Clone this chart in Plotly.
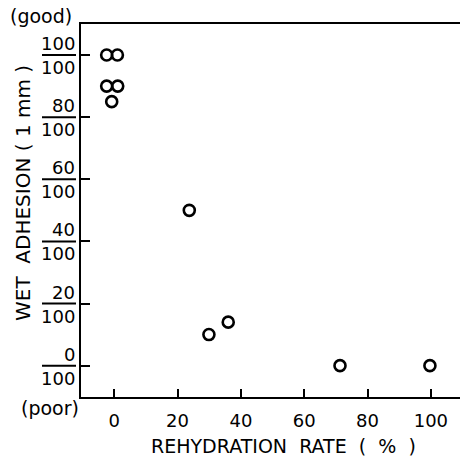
import plotly.graph_objects as go

# data
rehydration = [-2.4, 1.0, -2.4, 1.1, -0.8, 23.7, 29.9, 36.0, 71.3, 99.7]
adhesion = [100, 100, 90, 90, 85, 50, 10, 14, 0, 0]

x_ticks = [0, 20, 40, 60, 80, 100]
y_ticks = [0, 20, 40, 60, 80, 100]
y_denominator = "100"

NB = "\u00a0"
x_title = f"REHYDRATION{NB*2}RATE{NB*2}({NB}{NB}%{NB}{NB})"
y_title = f"WET{NB*2}ADHESION{NB}({NB}1{NB}mm{NB})"

FONT = "DejaVu Sans"
W, H = 460, 459
ML, MR, MT, MB = 81, 0, 24, 62
PW = W - ML - MR
PH = H - MT - MB

fig = go.Figure()
fig.add_trace(go.Scatter(
    x=rehydration, y=adhesion, mode="markers",
    marker=dict(symbol="circle-open", size=11, color="black", line=dict(width=2.6, color="black")),
    showlegend=False,
))

def px2paper_x(px):
    return (px - ML) / PW

def py2paper_y(py):
    return (H - MB - py) / PH

annotations = []
shapes = []
for v in y_ticks:
    annotations.append(dict(x=px2paper_x(77), xref="paper", y=v, yref="y", text=str(v),
                            xanchor="right", yanchor="bottom", yshift=-1, showarrow=False,
                            font=dict(family=FONT, size=18, color="black")))
    annotations.append(dict(x=px2paper_x(77), xref="paper", y=v, yref="y", text=y_denominator,
                            xanchor="right", yanchor="top", yshift=0, showarrow=False,
                            font=dict(family=FONT, size=18, color="black")))
    shapes.append(dict(type="line", xref="paper", yref="y", x0=px2paper_x(42), x1=px2paper_x(76),
                       y0=v, y1=v, line=dict(color="black", width=2)))

annotations.append(dict(x=px2paper_x(74), xref="paper", y=py2paper_y(16), yref="paper", text="(good)",
                        xanchor="right", yanchor="middle", showarrow=False,
                        font=dict(family=FONT, size=19, color="black")))
annotations.append(dict(x=px2paper_x(81), xref="paper", y=py2paper_y(408), yref="paper", text="(poor)",
                        xanchor="right", yanchor="middle", showarrow=False,
                        font=dict(family=FONT, size=19, color="black")))
annotations.append(dict(x=px2paper_x(23), xref="paper", y=py2paper_y(193), yref="paper",
                        text=y_title, textangle=-90,
                        xanchor="center", yanchor="middle", showarrow=False,
                        font=dict(family=FONT, size=20, color="black")))
annotations.append(dict(x=px2paper_x(283.5), xref="paper", y=py2paper_y(446), yref="paper",
                        text=x_title,
                        xanchor="center", yanchor="middle", showarrow=False,
                        font=dict(family=FONT, size=19, color="black")))

fig.update_layout(
    width=W, height=H,
    margin=dict(l=ML, r=MR, t=MT, b=MB),
    paper_bgcolor="white", plot_bgcolor="white",
    annotations=annotations, shapes=shapes,
    xaxis=dict(range=[-10.5, 109.2], tickvals=x_ticks, ticktext=[str(t) for t in x_ticks],
               ticks="inside", ticklen=8, tickwidth=2, tickcolor="black",
               ticklabelstandoff=6,
               showline=True, linewidth=2, linecolor="black", mirror=True,
               showgrid=False, zeroline=False,
               tickfont=dict(family=FONT, size=18, color="black")),
    yaxis=dict(range=[-10.1, 110], tickvals=y_ticks, showticklabels=False,
               ticks="inside", ticklen=9, tickwidth=2, tickcolor="black",
               showline=True, linewidth=2, linecolor="black",
               showgrid=False, zeroline=False),
)

fig.write_html("out.html", config={"displayModeBar": False},
               post_script="document.body.style.margin='0';document.body.style.overflow='hidden';")
